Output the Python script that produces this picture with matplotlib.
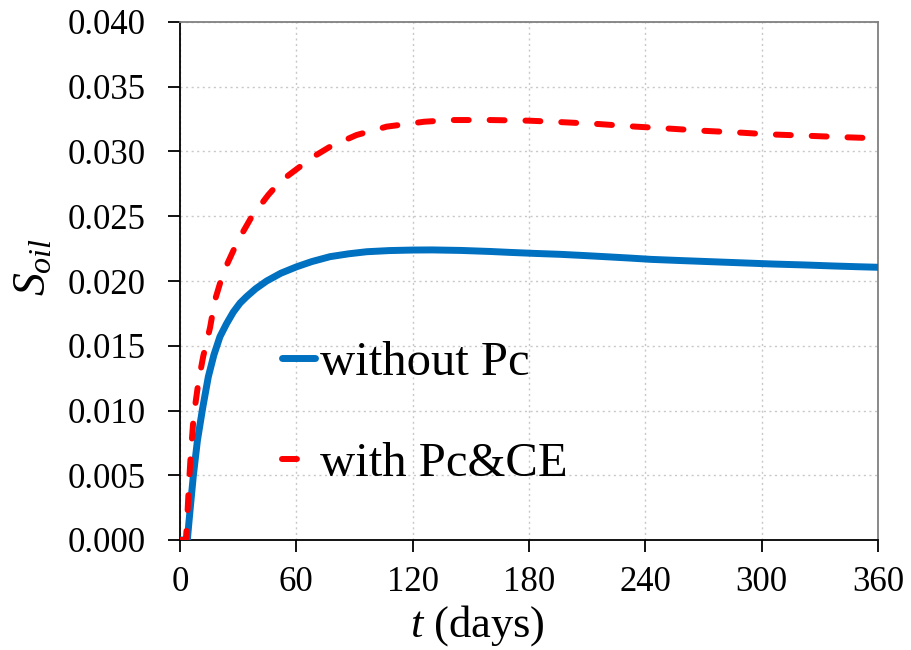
import matplotlib
matplotlib.use("Agg")
import matplotlib.pyplot as plt
from matplotlib.ticker import MultipleLocator, FormatStrFormatter

# Oil saturation over time, two model variants
t_no_pc = [0, 3.8, 4.5, 5.5, 6.9, 9, 11.7, 14.6, 17.5, 20.6, 24, 27.5, 31, 34.4, 39,
           44.7, 52, 60.2, 68, 77.4, 87, 96.3, 108, 120, 130, 145, 160, 170, 183, 196,
           208, 219, 231, 243, 258, 274, 290, 306, 322, 337, 350, 360]
s_no_pc = [0, 0, 0.0012, 0.0028, 0.0050, 0.0077, 0.0102, 0.0126, 0.0143, 0.0157,
           0.0167, 0.0176, 0.0183, 0.0188, 0.0194, 0.0200, 0.0206, 0.0211, 0.0215,
           0.02188, 0.0221, 0.02226, 0.02235, 0.02239, 0.0224, 0.02236, 0.02228,
           0.02221, 0.02213, 0.02206, 0.02197, 0.02188, 0.02178, 0.02167, 0.02158,
           0.02149, 0.0214, 0.02131, 0.02124, 0.02116, 0.0211, 0.02106]

t_pc_ce = [0, 3, 3.5, 4.5, 5.5, 7, 9.5, 12, 15.5, 18, 21, 24, 28, 31, 37, 45.5, 51.6,
           58.4, 68.8, 77.4, 91, 106.6, 126, 140, 160, 180, 195, 216, 235, 250, 270,
           290, 303, 323, 343, 360]
s_pc_ce = [0, 0, 0.001, 0.004, 0.0065, 0.0095, 0.0122, 0.0142, 0.0164, 0.0185, 0.0200,
           0.0212, 0.0225, 0.0234, 0.02497, 0.02664, 0.02767, 0.02844, 0.0296, 0.03037,
           0.03127, 0.03192, 0.0323, 0.03243, 0.03243, 0.03238, 0.03228, 0.03212,
           0.03192, 0.03179, 0.0316, 0.03145, 0.03133, 0.03122, 0.0311, 0.03102]

series_labels = ["without Pc", "with Pc&CE"]

plt.rcParams["font.family"] = ["Liberation Serif", "DejaVu Serif"]
plt.rcParams["mathtext.fontset"] = "custom"
plt.rcParams["mathtext.rm"] = "Liberation Serif"
plt.rcParams["mathtext.it"] = "Liberation Serif:italic"

fig = plt.figure(figsize=(9.11, 6.5), dpi=100)
ax = fig.add_axes([180 / 911, 110 / 650, 698 / 911, 518 / 650])

ax.plot(t_no_pc, s_no_pc, color="#0070C0", lw=5.0, solid_capstyle="round",
        solid_joinstyle="round", label=series_labels[0], zorder=3)
ax.plot(t_pc_ce, s_pc_ce, color="#FF0000", lw=4.3, dashes=(2.5, 3.5),
        dash_capstyle="round", dash_joinstyle="round", label=series_labels[1], zorder=4)

ax.set_xlim(0, 360)
ax.set_ylim(0, 0.040)
ax.xaxis.set_major_locator(MultipleLocator(60))
ax.yaxis.set_major_locator(MultipleLocator(0.005))
ax.yaxis.set_major_formatter(FormatStrFormatter("%.3f"))

ax.grid(True, color="#c8c8c8", linestyle=(0, (1.5, 2.5)), linewidth=1.0)
ax.set_axisbelow(True)

for side in ("left", "bottom"):
    ax.spines[side].set_color("black")
    ax.spines[side].set_linewidth(1.3)
for side in ("top", "right"):
    ax.spines[side].set_color("#808080")
    ax.spines[side].set_linewidth(1.3)

ax.tick_params(axis="both", direction="out", length=8.5, width=1.3, labelsize=25,
               top=False, right=False)
ax.tick_params(axis="y", pad=16)
ax.tick_params(axis="x", pad=10)

ax.set_xlabel("$t$ (days)", fontsize=32)
ax.set_ylabel("$S_{oil}$", fontsize=33)
ax.xaxis.set_label_coords(0.426, -0.122)
ax.yaxis.set_label_coords(-0.178, 0.527)

ax.legend(loc="upper left", bbox_to_anchor=(0.146, 0.384), frameon=False,
          fontsize=35, handlelength=0.68, handletextpad=0.1, labelspacing=1.16,
          borderpad=0, borderaxespad=0)

fig.savefig("out.png", dpi=100)
